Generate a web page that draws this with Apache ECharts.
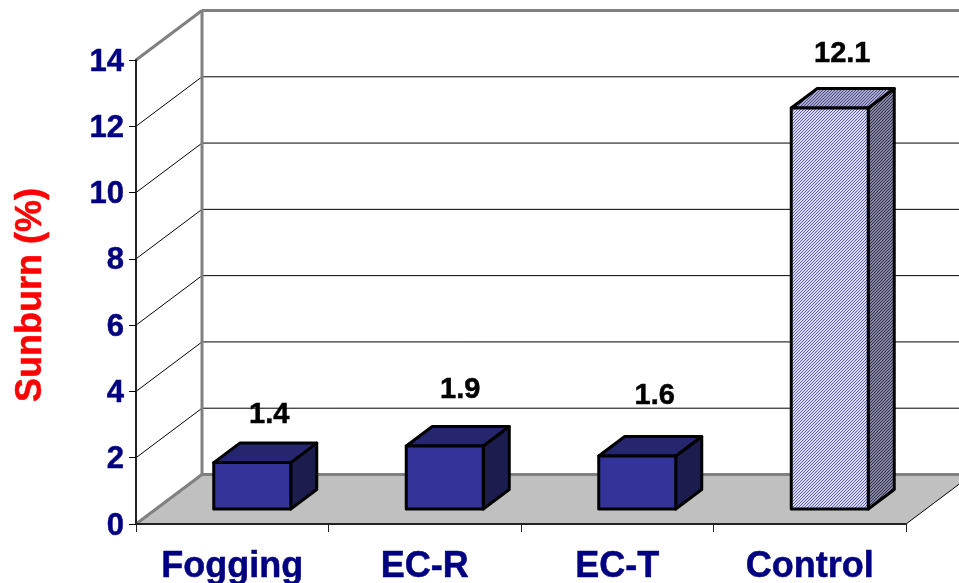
<!DOCTYPE html>
<html>
<head>
<meta charset="utf-8">
<title>Sunburn (%)</title>
<style>
  html, body { margin: 0; padding: 0; background: #fff; }
  #chart { width: 959px; height: 583px; }
</style>
<script src="https://cdn.jsdelivr.net/npm/echarts@6/dist/echarts.min.js"></script>
</head>
<body>
<div id="chart"></div>
<script>
// Chart values
const categories = ['Fogging', 'EC-R', 'EC-T', 'Control'];
const sunburn = [1.4, 1.9, 1.6, 12.1];
const valueTicks = [0, 2, 4, 6, 8, 10, 12, 14];

// Oblique projection of the 3D box: how far the back wall sits from the front plane
const DEPTH = [66, -49.5];
const BAR_FRONT = 0.303;   // bar front face, as a share of the floor depth
const BAR_BACK = 0.697;    // bar back face
const BAR_WIDTH = 0.4;     // share of a category band
const FONT = '"Liberation Sans", Arial, sans-serif';
// Hand-placed data labels, relative to the top centre of each front face
const labelNudge = [[17, -48], [15.5, -56], [17.5, -60], [12.5, -54]];

// Two-colour diagonal dither used by the Control bar
function dither(a, b) {
  const c = document.createElement('canvas');
  c.width = c.height = 3;
  const g = c.getContext('2d');
  for (let y = 0; y < 3; y++) {
    for (let x = 0; x < 3; x++) {
      g.fillStyle = (x + y) % 3 === 0 ? a : b;
      g.fillRect(x, y, 1, 1);
    }
  }
  return { image: c, repeat: 'repeat' };
}

const faces = {
  solid: { front: '#333399', top: '#26266f', side: '#1c1c4e' },
  hatched: {
    front: dither('#5a5ab8', '#dcdcf6'),
    top: dither('#4a4a80', '#aaaad0'),
    side: dither('#2e2e4e', '#85859f')
  }
};

const line = (x1, y1, x2, y2, stroke, width) => ({
  type: 'line',
  shape: { x1, y1, x2, y2 },
  style: { stroke, lineWidth: width }
});

// Floor plane, back wall and the slanted side-wall grid lines
function renderWalls(params, api) {
  const band = api.size([1, 0])[0];
  const origin = api.coord([0, 0]);
  origin[0] -= band / 2;
  const far = [origin[0] + band * categories.length, origin[1]];
  const children = [{
    type: 'polygon',
    shape: { points: [
      origin,
      [origin[0] + DEPTH[0], origin[1] + DEPTH[1]],
      [far[0] + DEPTH[0], far[1] + DEPTH[1]],
      far
    ] },
    style: { fill: '#c0c0c0' }
  }];
  valueTicks.forEach((v) => {
    const y = api.coord([0, v])[1];
    const bx = origin[0] + DEPTH[0];
    const by = y + DEPTH[1];
    const edge = v === 0 || v === valueTicks[valueTicks.length - 1];
    const stroke = edge ? '#808080' : '#000';
    const width = edge ? 3 : 1;
    children.push(line(bx, by, far[0] + DEPTH[0], by, stroke, width));
    children.push(line(origin[0], y, bx, by, stroke, width));
  });
  const topY = api.coord([0, valueTicks[valueTicks.length - 1]])[1];
  children.push(line(origin[0] + DEPTH[0], topY + DEPTH[1], origin[0] + DEPTH[0], origin[1] + DEPTH[1], '#808080', 3));
  children.push(line(far[0], far[1], far[0] + DEPTH[0], far[1] + DEPTH[1], '#000', 1));
  return { type: 'group', children };
}

// One box per category: front, top and side faces plus its value label
function renderBar(params, api) {
  const i = api.value(0);
  const v = api.value(1);
  const base = api.coord([i, 0]);
  const head = api.coord([i, v]);
  const half = api.size([1, 0])[0] * BAR_WIDTH / 2;
  const fx = base[0] + DEPTH[0] * BAR_FRONT;
  const fy = DEPTH[1] * BAR_FRONT;
  const dx = DEPTH[0] * (BAR_BACK - BAR_FRONT);
  const dy = DEPTH[1] * (BAR_BACK - BAR_FRONT);
  const l = fx - half, r = fx + half;
  const b = base[1] + fy, t = head[1] + fy;
  const look = i === categories.length - 1 ? faces.hatched : faces.solid;
  const edge = { stroke: '#000', lineWidth: 3, lineJoin: 'round' };
  const nudge = labelNudge[i];
  return {
    type: 'group',
    children: [
      { type: 'polygon', shape: { points: [[r, b], [r + dx, b + dy], [r + dx, t + dy], [r, t]] },
        style: Object.assign({ fill: look.side }, edge) },
      { type: 'polygon', shape: { points: [[l, t], [r, t], [r + dx, t + dy], [l + dx, t + dy]] },
        style: Object.assign({ fill: look.top }, edge) },
      { type: 'polygon', shape: { points: [[l, b], [r, b], [r, t], [l, t]] },
        style: Object.assign({ fill: look.front }, edge) },
      { type: 'text',
        style: {
          text: String(v),
          x: fx + nudge[0],
          y: t + nudge[1],
          align: 'center',
          verticalAlign: 'middle',
          fill: '#000',
          stroke: '#000',
          lineWidth: 0.5,
          font: 'bold 29px ' + FONT
        } }
    ]
  };
}

const chart = echarts.init(document.getElementById('chart'), null, { renderer: 'canvas' });
chart.setOption({
  animation: false,
  backgroundColor: '#fff',
  grid: { left: 136, right: 53, top: 60, bottom: 59, containLabel: false, outerBoundsMode: 'none' },
  xAxis: {
    type: 'category',
    data: categories,
    z: 5,
    boundaryGap: true,
    axisLine: { lineStyle: { color: '#222', width: 2 } },
    axisTick: { show: true, alignWithLabel: false, length: 8, lineStyle: { color: '#222', width: 1 } },
    axisLabel: { color: '#000080', fontFamily: FONT, fontWeight: 'bold', fontSize: 36, margin: 25, interval: 0,
      textBorderColor: '#000080', textBorderWidth: 0.5 }
  },
  yAxis: {
    type: 'value',
    min: 0,
    max: 14,
    interval: 2,
    z: 5,
    name: 'Sunburn (%)',
    nameLocation: 'middle',
    nameRotate: 90,
    nameGap: 87,
    nameTextStyle: { color: '#ff0000', fontFamily: FONT, fontWeight: 'bold', fontSize: 36,
      padding: [0, 6, 0, 0], textBorderColor: '#ff0000', textBorderWidth: 0.5 },
    splitLine: { show: false },
    axisLine: { show: true, lineStyle: { color: '#222', width: 2 } },
    axisTick: { show: true, length: 7, lineStyle: { color: '#000', width: 1 } },
    axisLabel: {
      margin: 12,
      formatter: '{v|{value}}',
      rich: { v: { color: '#000080', fontFamily: FONT, fontWeight: 'bold', fontSize: 31,
        padding: [4, 0, 0, 0], textBorderColor: '#000080', textBorderWidth: 0.5 } }
    }
  },
  series: [
    { type: 'custom', name: 'walls', z: 1, silent: true, data: [[0, 0]], renderItem: renderWalls },
    { type: 'custom', name: 'Sunburn (%)', z: 3, silent: true,
      data: sunburn.map((v, i) => [i, v]),
      encode: { x: 0, y: 1 },
      renderItem: renderBar }
  ]
});
</script>
</body>
</html>
